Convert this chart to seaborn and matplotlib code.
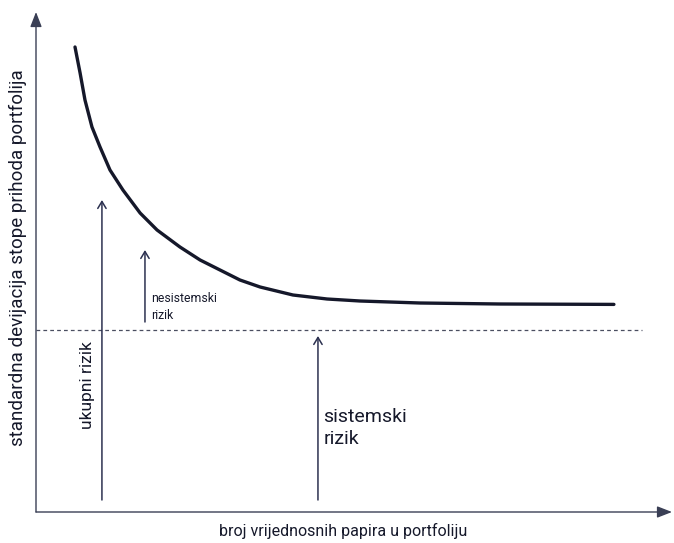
import matplotlib
matplotlib.use("Agg")
import matplotlib.pyplot as plt
import seaborn as sns
import pandas as pd

# curve: number of securities vs portfolio std dev
n_securities = [1.84, 2.08, 2.31, 2.64, 3.02, 3.49, 4.10, 4.91, 5.71, 6.79, 7.74,
                8.68, 9.62, 10.57, 12.12, 13.73, 15.28, 18.11, 21.89, 27.26]
std_dev = [23.25, 21.95, 20.6, 19.25, 18.25, 17.1, 16.1, 14.95, 14.1, 13.25, 12.6,
           12.1, 11.6, 11.25, 10.85, 10.65, 10.55, 10.45, 10.4, 10.38]
systematic_level = 9.1
dash_end = 28.6

# risk arrows: x, y start, y end
total_risk = (3.11, 0.6, 15.6)
unsys_risk = (5.14, 9.5, 13.1)
sys_risk = (13.3, 0.6, 8.8)

labels = {
    "y": "standardna devijacija stope prihoda portfolija",
    "x": "broj vrijednosnih papira u portfoliju",
    "total": "ukupni rizik",
    "unsys": "nesistemski\nrizik",
    "sys": "sistemski\nrizik",
}

sns.set_style("white")
font = ["Roboto", "DejaVu Sans"]
plt.rcParams["font.family"] = font

fig = plt.figure(figsize=(6.74, 5.43), dpi=100)
ax = fig.add_axes([36 / 674, 31 / 543, 636 / 674, 500 / 543])
ax.set_xlim(0, 30)
ax.set_ylim(0, 25)
for s in ax.spines.values():
    s.set_visible(False)
ax.set_xticks([])
ax.set_yticks([])

axis_col = "#3a3f55"
ink = "#15182a"

# axes with arrowheads
ax.annotate("", xy=(0, 1), xytext=(0, 0), xycoords="axes fraction",
            arrowprops=dict(arrowstyle="-|>,head_length=0.9,head_width=0.35",
                            color=axis_col, lw=1.0, shrinkA=0, shrinkB=0))
ax.annotate("", xy=(1, 0), xytext=(0, 0), xycoords="axes fraction",
            arrowprops=dict(arrowstyle="-|>,head_length=0.9,head_width=0.35",
                            color=axis_col, lw=1.0, shrinkA=0, shrinkB=0))

df = pd.DataFrame({"n": n_securities, "sd": std_dev})
sns.lineplot(data=df, x="n", y="sd", ax=ax, color=ink, lw=2.4, sort=False)

ax.plot([0, dash_end], [systematic_level, systematic_level], color="#4a4e60",
        lw=0.9, linestyle=(0, (3, 2.5)))

for (x, y0, y1) in (total_risk, unsys_risk, sys_risk):
    ax.annotate("", xy=(x, y1), xytext=(x, y0),
                arrowprops=dict(arrowstyle="->,head_length=0.5,head_width=0.3",
                                color="#2c3150", lw=1.1, shrinkA=0, shrinkB=0))

ax.text(total_risk[0] - 0.66, 6.35, labels["total"], rotation=90, ha="center",
        va="center", fontsize=12.5, color=ink)
ax.text(unsys_risk[0] + 0.3, 10.25, labels["unsys"], ha="left", va="center",
        fontsize=8.8, color=ink, linespacing=1.4)
ax.text(sys_risk[0] + 0.25, 4.2, labels["sys"], ha="left", va="center",
        fontsize=14, color=ink, linespacing=1.25)

fig.text(18 / 674, 1 - 258 / 543, labels["y"], rotation=90, ha="center",
         va="center", fontsize=13.5, color=ink)
fig.text(343 / 674, 1 - 531 / 543, labels["x"], ha="center", va="center",
         fontsize=11.5, color=ink)

fig.savefig("out.png", dpi=100)
